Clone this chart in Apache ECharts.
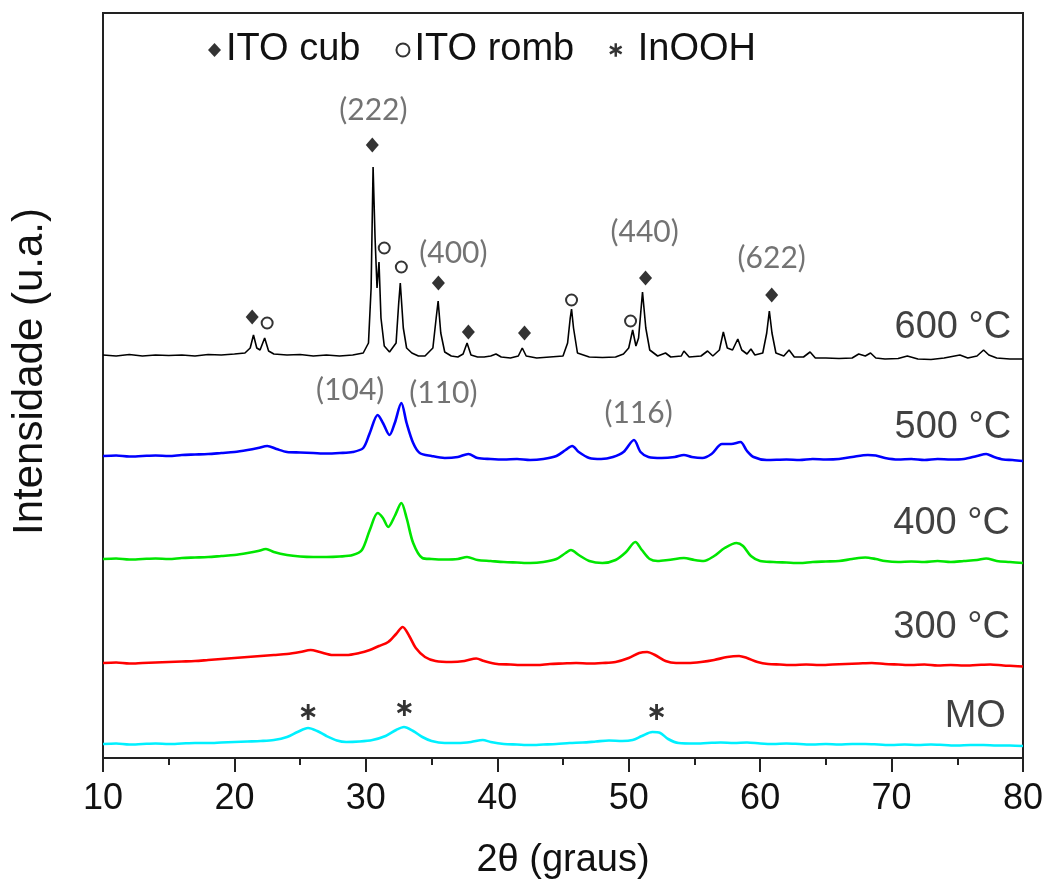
<!DOCTYPE html>
<html>
<head>
<meta charset="utf-8">
<title>DRX</title>
<script src="https://cdn.jsdelivr.net/npm/echarts@6/dist/echarts.min.js"></script>
<style>
  html, body { margin: 0; padding: 0; background: #fff; }
  #chart { width: 1052px; height: 894px; }
</style>
</head>
<body>
<div id="chart"></div>
<script>
// 2theta (graus), intensidade (u.a.)
var curve600 = [[10,403],[11,402],[12,403.5],[13,402],[14,403],[15,402.5],[16,403],[17,402],[18,403.5],[19,403],[20,404],
  [20.8,405],[21.2,410],[21.45,423],[21.7,410],[21.95,408],[22.3,420],[22.6,407],[23,404],[24,403],[25,403.5],[26,402],
  [27,403],[28,402],[29,403],[29.8,405],[30.2,415],[30.4,470],[30.55,591],[30.7,520],[30.85,470],[31.0,496],[31.15,440],
  [31.4,412],[31.8,406],[32.3,415],[32.5,455],[32.62,475],[32.85,430],[33.1,410],[33.5,405],[34,402],[34.5,402],
  [35.1,410],[35.35,440],[35.5,457],[35.7,425],[36,406],[36.5,402],[37,401],[37.4,404],[37.7,415],[38.0,403],[38.5,401],
  [39,401],[39.5,402],[39.9,404],[40.3,401],[41,400],[41.6,402],[41.9,410],[42.2,402],[43,400],[44,401],[45,402],
  [45.35,415],[45.55,440],[45.65,449],[45.8,430],[46.1,405],[47,401],[48,400.5],[49,401],[49.6,404],[50.0,410],
  [50.3,428],[50.55,412],[50.75,420],[51.05,466],[51.3,430],[51.6,408],[52.2,402],[52.8,405],[53.2,401],[54.0,402],
  [54.2,407],[54.6,401],[55.5,402],[56.0,407],[56.4,402],[56.9,408],[57.2,426],[57.5,410],[57.9,408],[58.3,419],
  [58.6,408],[59.0,404],[59.3,409],[59.6,403],[60.2,405],[60.5,425],[60.7,447],[60.9,425],[61.2,405],[61.8,402],
  [62.2,408],[62.6,401],[63.3,401],[63.8,406],[64.2,400],[65,400],[66,399.5],[67,400],[67.5,404],[68.0,402],[68.4,405],
  [68.8,400],[69.5,399],[70.5,399.5],[71.2,402],[72,399],[73,398.5],[74,400],[75.2,403],[75.8,400],[76.5,402],
  [77.0,408],[77.4,403],[78,400],[79,399],[80,399]];

var curve500 = [[10,302],[11,302.5],[12,301.5],[13,302],[14,302.5],[15,302],[16,303],[17,303.5],[18,304],[19,305],
  [20,306],[21,308],[21.8,310],[22.5,312],[23.2,309],[24,306],[25,305.5],[26,305],[27,304.5],[28,305],[29,306],
  [29.8,310],[30.3,325],[30.9,343],[31.3,335],[31.8,323],[32.2,335],[32.7,355],[33.1,335],[33.6,315],[34.1,305],
  [35,302],[36,300],[37,301],[37.8,304],[38.5,300],[39.5,299],[40.5,298.5],[41.5,299],[42.5,298],[43.5,299],
  [44.5,302],[45.2,308],[45.7,312],[46.2,306],[47,300],[47.9,299],[48.8,301],[49.6,306],[50.4,318],[50.9,306],
  [51.5,301],[52.5,300],[53.5,301],[54.2,303],[54.8,301],[55.6,300],[56.3,304],[57.1,314],[57.8,314],[58.5,316],
  [59.0,307],[59.5,301],[60.5,298],[62,298.5],[63,298],[64,299],[65,298.5],[66,299],[67,301],[68.2,303],[68.8,302.5],
  [69.5,300],[70.5,298.5],[71.5,299],[72.5,298],[73.5,299],[74.5,298.5],[75.5,299],[76.5,302],[77.2,304],[77.8,301],
  [78.5,298.5],[79.2,298],[80,297]];

var curve400 = [[10,199],[11,199.5],[12,198.5],[13,199],[14,199.5],[15,199],[16,200],[17,200.5],[18,201],[19,202],
  [20,203],[21,205],[21.8,207],[22.4,209],[23,206],[24,203],[25,201.5],[26,201],[27,201],[28,201.5],[29,203],
  [29.7,208],[30.3,228],[30.9,245],[31.3,240],[31.7,231],[32.2,242],[32.7,255],[33.1,240],[33.6,215],[34.3,200],
  [35,199],[36,198.5],[37,199],[37.7,201],[38.5,198],[39.5,197],[40.5,196],[41.5,195.5],[42.5,195],[43.5,196],
  [44.5,199],[45.2,205],[45.6,208],[46.2,203],[47,197],[48,195],[49,198],[49.8,206],[50.5,216],[51,208],[51.6,199],
  [52.2,197],[53,198],[54.2,200],[55,198],[55.7,197],[56.5,202],[57.3,210],[58.2,215],[58.7,212],[59.3,202],[60,197],
  [61,196],[62,195.5],[63,195],[64,196],[65,196.5],[66,197],[67,199],[68,200.5],[68.8,199],[69.5,197],[70.5,196],
  [71.5,196.5],[72.5,196],[73.5,197],[74.5,196],[75.5,197],[76.5,198],[77.2,199.5],[78,197],[79,196],[80,195]];

var curve300 = [[10,95],[11,95.5],[12,94.5],[13,95],[14,95.5],[15,96],[16,96.5],[17,97],[18,98],[19,99],[20,100],
  [21,101],[22,102],[23,103],[24,104],[25,106],[25.8,108],[26.5,106],[27.5,103],[28.5,103],[29.5,105],[30.3,108],
  [31,112],[31.7,116],[32.3,124],[32.8,131],[33.3,122],[33.8,110],[34.5,101],[35.3,97],[36.5,96],[37.5,97],
  [38.4,99.5],[39,97],[40,94],[41,93.5],[42,93],[43,93],[44,94],[45,94.5],[46,95],[47,94.5],[48,95],[49,96],[50,100],
  [50.8,105],[51.4,106],[52,103],[52.8,97],[53.6,95],[54.5,95],[55.5,96],[56.5,98],[57.5,101],[58.4,102],[59,100],
  [59.8,96],[60.6,94],[61.5,93.5],[62.5,93],[63.5,93.5],[64.5,93],[65.5,93.5],[66.5,94],[67.5,94.5],[68.5,95],
  [69.5,94],[70.5,93.5],[71.5,93],[72.5,93.5],[73.5,92.5],[74.5,93],[75.5,92.5],[76.5,93],[77.5,93.5],[78.5,92.5],
  [79.3,92],[80,91.5]];

var curveMO = [[10,14],[11,14.5],[12,13.5],[13,14],[14,14.5],[15,14],[16,14.5],[17,15],[18,15],[19,15.5],[20,16],
  [21,16.5],[22,17],[23,18],[24,21],[24.8,26],[25.6,30],[26.3,27],[27,22],[27.8,17.5],[28.5,16],[29.5,16.5],
  [30.5,18],[31.5,22],[32.3,28],[32.9,31],[33.6,27],[34.3,21],[35,17],[36,15],[37,15],[38,16],[38.9,18],[39.5,16],
  [40.5,14],[41.5,13.5],[42.5,13],[43.5,13.5],[44.5,14],[45.5,15],[46.5,15.5],[47.5,16.5],[48.5,17.5],[49.5,17],
  [50.3,18],[51,22],[51.8,26],[52.4,25],[53,19],[53.8,15],[55,14.5],[56,15],[57,15.5],[58,15],[59,15.5],[60,14.5],
  [61,14],[62,14.5],[63,14],[64,13.5],[65,14],[66,13.5],[67,14],[68,14],[69,13.5],[70,13],[71,13.5],[72,13],
  [73,13.5],[74,13],[75,12.5],[76,13],[77,13],[78,12.5],[79,12.5],[80,12]];

// phase markers
var cubPeaks = [[21.35,441],[30.49,613],[35.52,475],[37.8,426],[42.07,425],[51.28,480],[60.88,463]];
var rombPeaks = [[22.49,435],[31.4,510],[32.7,491],[45.65,458],[50.14,437]];
var inoohPeaks = [[25.61,46],[32.93,50],[52.12,46]];

// miller indices
var hklLabels = [[30.57,648,'(222)'],[36.66,505,'(400)'],[51.21,526,'(440)'],[60.88,500,'(622)'],
  [28.81,368,'(104)'],[35.9,365,'(110)'],[50.75,345,'(116)']];

// sample names, right aligned
var sampleLabels = [[79.1,430,'600 °C'],[79.1,330,'500 °C'],[79.0,234,'400 °C'],[79.0,130,'300 °C'],[78.7,41,'MO']];

var xTicks = [10, 20, 30, 40, 50, 60, 70, 80];

var asterisk = 'path://M8.2,20L11.8,20L11.8,0L8.2,0Z' +
  'M17.76,16.56L19.56,13.44L2.24,3.44L0.44,6.56Z' +
  'M0.44,13.44L2.24,16.56L19.56,6.56L17.76,3.44Z';

var mainFont = 'Liberation Sans, Arial, sans-serif';

var lineSerie = function (name, data, color, width, smooth) {
  return {
    name: name,
    type: 'line',
    data: data,
    symbol: 'none',
    smooth: smooth,
    lineStyle: { color: color, width: width },
    z: 2
  };
};

var textSerie = function (data, font, size, color, position) {
  return {
    type: 'scatter',
    data: data,
    symbolSize: 0,
    silent: true,
    label: {
      show: true,
      position: position,
      distance: 0,
      formatter: function (p) { return p.data[2]; },
      fontFamily: font,
      fontSize: size,
      color: color
    },
    z: 5
  };
};

var chart = echarts.init(document.getElementById('chart'));

var option = {
  animation: false,
  backgroundColor: '#fff',
  grid: {
    left: 103, right: 29, top: 13, bottom: 136,
    show: true, borderColor: '#222', borderWidth: 2
  },
  legend: {
    left: 203, top: 26,
    itemWidth: 13, itemHeight: 14,
    itemGap: 35,
    selectedMode: false,
    formatter: function (name) { return name === 'InOOH' ? ' ' + name : name; },
    textStyle: { fontFamily: mainFont, fontSize: 38, color: '#111' },
    data: [
      { name: 'ITO cub', icon: 'diamond' },
      { name: 'ITO romb', icon: 'emptyCircle' },
      { name: 'InOOH', icon: asterisk }
    ]
  },
  xAxis: {
    type: 'value',
    min: 10, max: 80, interval: 10,
    name: '2θ (graus)',
    nameLocation: 'middle',
    nameGap: 84,
    nameTextStyle: { fontFamily: mainFont, fontSize: 38, color: '#111' },
    axisLine: { show: true, lineStyle: { color: '#222', width: 2 } },
    axisTick: { show: true, length: 14, lineStyle: { color: '#222', width: 2 } },
    minorTick: { show: true, splitNumber: 2, length: 7, lineStyle: { color: '#222', width: 2 } },
    axisLabel: {
      margin: 23,
      fontFamily: mainFont, fontSize: 36, color: '#111',
      formatter: function (v) { return xTicks.indexOf(v) >= 0 ? String(v) : ''; }
    },
    splitLine: { show: false }
  },
  yAxis: {
    type: 'value',
    min: 0, max: 745,
    name: 'Intensidade (u.a.)',
    nameLocation: 'middle',
    nameGap: 52,
    nameTextStyle: { fontFamily: mainFont, fontSize: 42, color: '#111', padding: [0, 0, 0, 28] },
    axisLine: { show: false },
    axisTick: { show: false },
    axisLabel: { show: false },
    splitLine: { show: false }
  },
  series: [
    lineSerie('MO', curveMO, '#00f0ff', 2.6, 0.3),
    lineSerie('300 °C', curve300, '#ff0000', 2.6, 0.3),
    lineSerie('400 °C', curve400, '#00e600', 2.6, 0.3),
    lineSerie('500 °C', curve500, '#0000ff', 2.6, 0.3),
    lineSerie('600 °C', curve600, '#000000', 1.6, false),
    {
      name: 'ITO cub', type: 'scatter', data: cubPeaks,
      symbol: 'diamond', symbolSize: [13, 15],
      itemStyle: { color: '#000' }, z: 4
    },
    {
      name: 'ITO romb', type: 'scatter', data: rombPeaks,
      symbol: 'emptyCircle', symbolSize: 11,
      itemStyle: { color: '#000', borderColor: '#000', borderWidth: 1.5 }, z: 4
    },
    {
      name: 'InOOH', type: 'scatter', data: inoohPeaks,
      symbol: asterisk, symbolSize: [15, 16],
      itemStyle: { color: '#000' }, z: 4
    },
    textSerie(hklLabels, 'Lato, Open Sans, sans-serif', 30, '#505050', 'inside'),
    textSerie(sampleLabels, mainFont, 38, '#111', 'left')
  ]
};

chart.setOption(option);
</script>
</body>
</html>
